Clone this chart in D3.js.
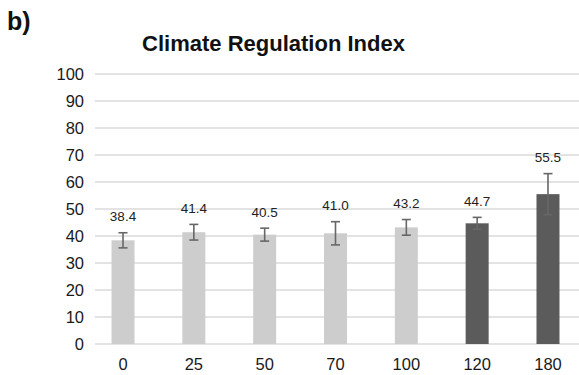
<!DOCTYPE html>
<html><head><meta charset="utf-8">
<script src="https://cdn.jsdelivr.net/npm/d3@7"></script>
<style>body{margin:0;background:#fff}svg{display:block;font-family:"Liberation Sans",Arial,sans-serif}</style>
</head><body><svg id="c" width="579" height="375"></svg>
<script>
const categories = ["0","25","50","70","100","120","180"];
const values = [38.4, 41.4, 40.5, 41.0, 43.2, 44.7, 55.5];
const errors = [2.8, 2.9, 2.4, 4.3, 2.9, 2.2, 7.6];
const groups = ["light","light","light","light","light","dark","dark"];
const yTicks = [0,10,20,30,40,50,60,70,80,90,100];

const svg = d3.select("#c");
const x = d3.scaleBand().domain(categories).range([87.6, 583.4]).paddingInner(0.69).paddingOuter(0.345);
const y = d3.scaleLinear().domain([0,100]).range([344, 74]);
const colors = {light:"#cdcdcd", dark:"#5b5b5b"};

// gridlines
svg.append("g").selectAll("line").data(yTicks).join("line")
  .attr("x1", 95).attr("x2", 579)
  .attr("y1", d => y(d)).attr("y2", d => y(d))
  .attr("stroke", "#e3e3e3").attr("stroke-width", 2);

// y axis labels
const yAxis = d3.axisLeft(y).tickValues(yTicks).tickSize(0).tickPadding(0);
const ya = svg.append("g").attr("transform","translate(84,0)").call(yAxis);
ya.select(".domain").remove();
ya.selectAll("text").attr("font-size",16.5).attr("fill","#1a1a1a").attr("font-family","Liberation Sans, Arial").attr("dy","0.36em");

// x axis labels
const xAxis = d3.axisBottom(x).tickSize(0).tickPadding(0);
const xa = svg.append("g").attr("transform","translate(0,358)").call(xAxis);
xa.select(".domain").remove();
xa.selectAll("text").attr("font-size",16.5).attr("fill","#1a1a1a").attr("font-family","Liberation Sans, Arial").attr("dy","0.71em");

// bars
const bw = 23;
svg.append("g").selectAll("rect").data(values).join("rect")
  .attr("x", (d,i) => x(categories[i]) + x.bandwidth()/2 - bw/2)
  .attr("width", bw)
  .attr("y", d => y(d))
  .attr("height", d => y(0) - y(d))
  .attr("fill", (d,i) => colors[groups[i]]);

// error bars
const eg = svg.append("g").attr("stroke","#676767").attr("stroke-width",1.6);
values.forEach((v,i) => {
  const cx = x(categories[i]) + x.bandwidth()/2;
  const t = y(v + errors[i]), b = y(v - errors[i]);
  eg.append("line").attr("x1",cx).attr("x2",cx).attr("y1",t).attr("y2",b);
  eg.append("line").attr("x1",cx-4.5).attr("x2",cx+4.5).attr("y1",t).attr("y2",t);
  eg.append("line").attr("x1",cx-4.5).attr("x2",cx+4.5).attr("y1",b).attr("y2",b);
});

// value labels
svg.append("g").selectAll("text").data(values).join("text")
  .attr("x", (d,i) => x(categories[i]) + x.bandwidth()/2)
  .attr("y", (d,i) => y(d + errors[i]) - 11.5)
  .attr("text-anchor","middle").attr("font-size",13.5).attr("fill","#222")
  .text(d => d.toFixed(1));

// title
svg.append("text").attr("x",273.5).attr("y",51).attr("text-anchor","middle")
  .attr("font-size",22).attr("font-weight","bold").attr("fill","#111").text("Climate Regulation Index");
svg.append("text").attr("x",7).attr("y",30)
  .attr("font-size",25).attr("font-weight","bold").attr("fill","#111").text("b)");
</script></body></html>
